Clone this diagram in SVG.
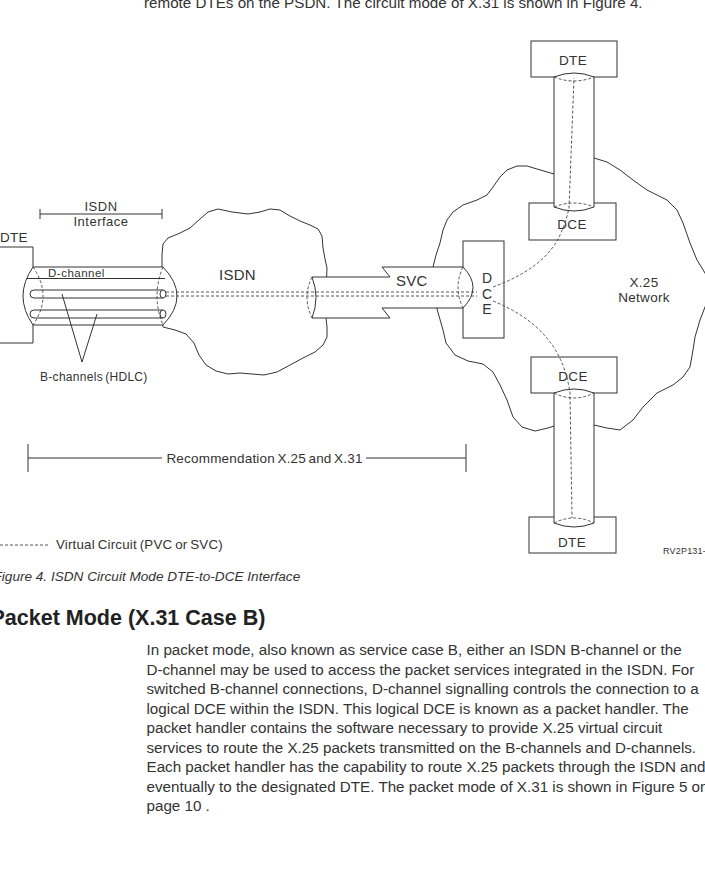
<svg xmlns="http://www.w3.org/2000/svg" width="705" height="886" viewBox="0 0 705 886">
<style>
.ln{fill:none;stroke:#333;stroke-width:1}
.wf{fill:#fff;stroke:#333;stroke-width:1}
.ds{fill:none;stroke:#444;stroke-width:0.9;stroke-dasharray:3 2}
.cl{fill:#fff;stroke:#333;stroke-width:1;stroke-linejoin:round}
text{font-family:"Liberation Sans",Arial,Helvetica,sans-serif;fill:#333}
.lab{font-size:13.5px;text-anchor:middle;letter-spacing:0.3px}
.body{font-size:15.2px}
</style>
<rect width="705" height="886" fill="#fff"/>
<text class="body" x="144" y="8">remote DTEs on the PSDN. The circuit mode of X.31 is shown in Figure 4.</text>

<g id="isdn-cloud">
<path class="cl" d="M162,267 L162,255 L163,244 L168,238 L180,233 L190,228 L200,219 L208,212 L218,209 L232,212 L248,214 L260,212 L270,209 L280,210 L290,216 L300,221 L310,225 L318,229 L322,236 L323,248 L325,259 L327,268 L326,290 L326,318 L327,327 L327,337 L323,345 L315,352 L303,358 L290,365 L277,372 L264,375 L252,374 L240,373 L228,374 L216,371 L206,365 L199,355 L194,343 L186,334 L175,330 L163,327 L160,297 Z"/>
<text x="237.5" y="280" style="font-size:15px;text-anchor:middle;letter-spacing:0.3px">ISDN</text>
</g>

<g id="x25-cloud">
<path class="cl" d="M554,174 L537,169 L527,166 L517,166 L507,170 L500,177 L493,187 L487,195 L477,200 L463,205 L453,212 L447,220 L443,230 L440,243 L436,255 L433,267 L435,290 L437,309 L443,330 L446,343 L455,355 L468,361 L483,364 L493,372 L500,385 L507,400 L513,417 L522,427 L535,431 L548,428 L554,426 L594,425 L607,428 L620,430 L633,420 L643,407 L657,393 L673,385 L683,377 L690,367 L693,350 L695,337 L700,320 L705,307 L712,290 L705,273 L697,260 L690,243 L683,223 L677,210 L667,200 L647,190 L633,180 L620,170 L607,162 L594,158 Z"/>
<text x="644" y="287" class="lab">X.25</text>
<text x="644" y="302" class="lab">Network</text>
</g>

<g id="dte-left">
<path class="ln" d="M0,247 H33 V267 M33,325 V343 H0"/>
<text x="0" y="242" style="font-size:13.5px;letter-spacing:0.3px">DTE</text>
</g>

<g id="isdn-interface">
<path class="ln" d="M40,214 H162 M40,209 V219 M162,209 V219"/>
<text x="101" y="211" style="font-size:13px;text-anchor:middle;letter-spacing:0.5px">ISDN</text>
<text x="101" y="226" style="font-size:13px;text-anchor:middle;letter-spacing:0.5px">Interface</text>
</g>

<g id="access-tube">
<path class="wf" d="M33,267 L163,267 Q191,296 163,325 L33,325 Q13,296 33,267 Z"/>
<path class="ds" d="M33,267 Q53,296 33,325 M163,267 Q151,296 163,325"/>
<path class="ln" d="M27,278.5 H165"/>
<path class="ln" d="M163,290 L34,290 A4,4 0 0 0 34,298 L163,298"/>
<path class="ln" d="M163,310 L34,310 A4,4 0 0 0 34,318 L163,318"/>
<ellipse class="wf" cx="163" cy="294" rx="3" ry="4"/>
<ellipse class="wf" cx="163" cy="314" rx="3" ry="4"/>
<text x="48" y="276.5" style="font-size:11.5px;letter-spacing:0.5px">D-channel</text>
<path class="ln" d="M62,294 L82,362 L97,314"/>
<text x="40" y="381" style="font-size:12px;letter-spacing:0.3px;word-spacing:-1.5px">B-channels (HDLC)</text>
</g>

<g id="dce-middle">
<rect class="wf" x="463" y="241" width="41" height="97"/>
</g>

<g id="svc-tube">
<path class="wf" d="M312,277 L390,277 L382,267 L463,267 Q483,287.5 463,308 L382,308 L390,318 L312,318 Q320,297.5 312,277 Z"/>
<path class="ds" d="M312,277 Q302,297.5 312,318 M463,267 Q453,287.5 463,308"/>
<text x="396" y="286" style="font-size:15px;letter-spacing:0.3px">SVC</text>
</g>

<g id="dte-top">
<rect class="wf" x="531" y="41" width="86" height="36"/>
<text x="573" y="65" class="lab">DTE</text>
</g>
<g id="dce-top">
<rect class="wf" x="529" y="203" width="87" height="37"/>
<text x="572" y="229" class="lab">DCE</text>
</g>
<g id="tube-top">
<path class="wf" d="M554,77 Q574,69 594,77 L594,207 Q574,215 554,207 Z"/>
<path class="ds" d="M554,77 Q574,85 594,77 M554,207 Q574,199 594,207"/>
</g>

<g id="dce-bottom">
<rect class="wf" x="531" y="357" width="86" height="36"/>
<text x="573" y="381" class="lab">DCE</text>
</g>
<g id="dte-bottom">
<rect class="wf" x="529" y="517" width="87" height="36"/>
<text x="572" y="547" class="lab">DTE</text>
</g>
<g id="tube-bottom">
<path class="wf" d="M554,393 Q574,385 594,393 L594,523 Q574,531 554,523 Z"/>
<path class="ds" d="M554,393 Q574,403 594,393 M554,523 Q574,513 594,523"/>
</g>

<g id="connectors">
<path class="ds" d="M166,292 H477 M166,296 H477"/>
<path class="ds" d="M493,287 Q545,268 560,235 Q566,222 569,208 L574,78"/>
<path class="ds" d="M493,301 Q545,322 562,363 Q568,378 570,393 L572,518"/>
</g>

<g id="dce-middle-label">
<text x="487" y="283" style="font-size:14px;text-anchor:middle">D</text>
<text x="487" y="298.5" style="font-size:14px;text-anchor:middle">C</text>
<text x="487" y="314" style="font-size:14px;text-anchor:middle">E</text>
</g>

<g id="recommendation">
<path class="ln" d="M28,458 H162 M366,458 H466 M28,444 V472 M466,444 V472"/>
<text x="264.5" y="463" style="font-size:13.5px;text-anchor:middle;letter-spacing:0.2px;word-spacing:-1.5px">Recommendation X.25 and X.31</text>
</g>

<g id="legend">
<path class="ds" d="M0,545 H50"/>
<text x="56" y="549" style="font-size:13.3px;letter-spacing:0.2px;word-spacing:-1px">Virtual Circuit (PVC or SVC)</text>
</g>
<text x="663" y="554" style="font-size:9px;letter-spacing:0.2px">RV2P131-</text>

<text x="-6.5" y="581" style="font-size:13.6px;font-style:italic">Figure 4. ISDN Circuit Mode DTE-to-DCE Interface</text>
<text x="-9.5" y="625" style="font-size:21.5px;font-weight:bold;fill:#222">Packet Mode (X.31 Case B)</text>

<g class="body">
<text x="146.5" y="655">In packet mode, also known as service case B, either an ISDN B-channel or the</text>
<text x="146.5" y="674.5">D-channel may be used to access the packet services integrated in the ISDN. For</text>
<text x="146.5" y="694">switched B-channel connections, D-channel signalling controls the connection to a</text>
<text x="146.5" y="713.5">logical DCE within the ISDN. This logical DCE is known as a packet handler. The</text>
<text x="146.5" y="733">packet handler contains the software necessary to provide X.25 virtual circuit</text>
<text x="146.5" y="752.5">services to route the X.25 packets transmitted on the B-channels and D-channels.</text>
<text x="146.5" y="772">Each packet handler has the capability to route X.25 packets through the ISDN and</text>
<text x="146.5" y="791.5">eventually to the designated DTE. The packet mode of X.31 is shown in Figure 5 on</text>
<text x="146.5" y="811">page 10 .</text>
</g>
</svg>
